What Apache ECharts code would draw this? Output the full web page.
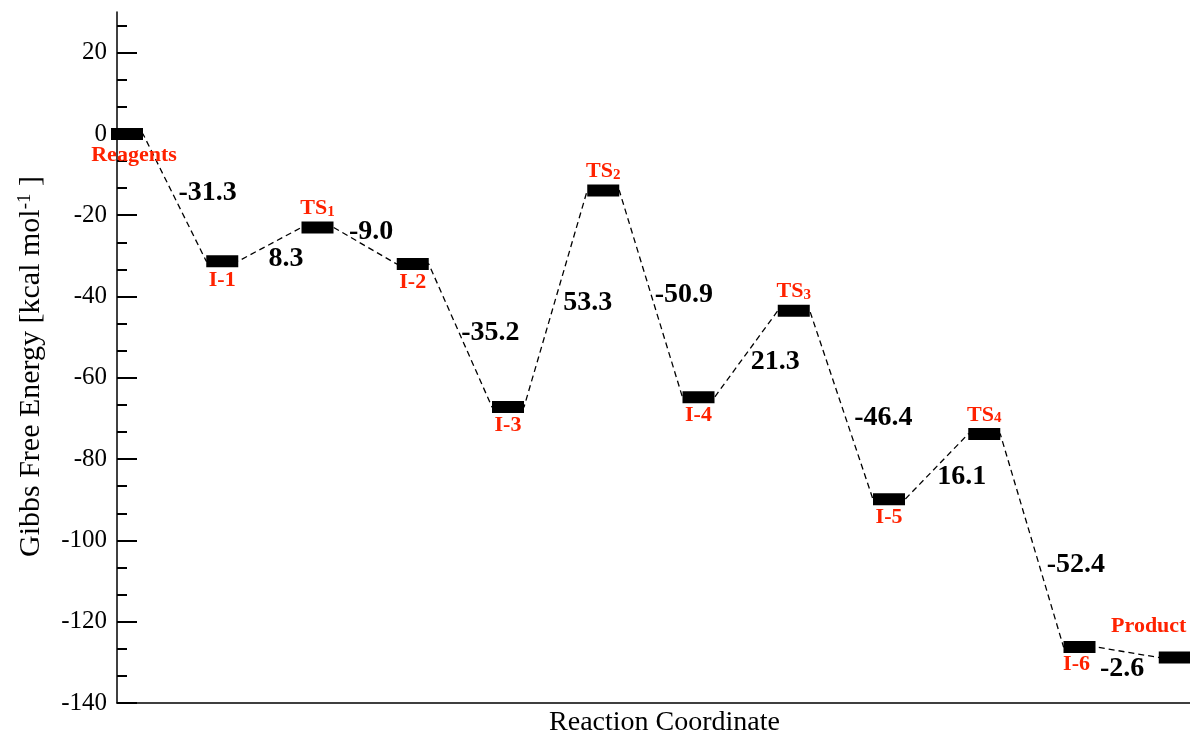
<!DOCTYPE html>
<html>
<head>
<meta charset="utf-8">
<script src="https://cdn.jsdelivr.net/npm/echarts@6/dist/echarts.min.js"></script>
<style>
	html, body { margin: 0; padding: 0; background: #fff; }
	#main { width: 1190px; height: 742px; }
</style>
</head>
<body>
<div id="main"></div>
<script>
// states along the reaction path
var stateNames = ['Reagents', 'I-1', 'TS1', 'I-2', 'I-3', 'TS2', 'I-4', 'TS3', 'I-5', 'TS4', 'I-6', 'Product'];
var energies = [0, -31.3, -23.0, -32.0, -67.2, -13.9, -64.8, -43.5, -89.9, -73.8, -126.2, -128.8];
// energy change of each step, as written on the chart
var stepLabels = ['-31.3', '8.3', '-9.0', '-35.2', '53.3', '-50.9', '21.3', '-46.4', '16.1', '-52.4', '-2.6'];
var yTicks = [-140, -120, -100, -80, -60, -40, -20, 0, 20];

// label placement (pixels)
var stateOffsets = [[7, 21], [0, 19], [0, -19], [0, 18], [0, 18], [0, -19], [0, 18], [0, -19], [0, 18], [0, -19], [-3, 17], [-26, -31]];
var stepOffsets = [[33, -5], [16, 14], [6, -14], [30, -3], [32, 4], [33, 1], [29, 8], [42, 13], [25, 10], [44, 24], [-5, 17]];

var barHalf = 0.168;
var red = '#ff2200';
var serif = '"Liberation Serif", "DejaVu Serif", serif';

var minorTicks = [];
for (var k = 0; k <= 25; k++) {
	if (k % 3 !== 0) minorTicks.push(-140 + k * 20 / 3);
}

var levelData = energies.map(function (e, i) { return [i, e]; });

// dashed path: runs along each level, hidden under the bars
var pathData = [];
energies.forEach(function (e, i) {
	pathData.push([i - barHalf, e]);
	pathData.push([i + barHalf, e]);
});

var stateLabelData = energies.map(function (e, i) {
	return { value: [i, e], label: { offset: stateOffsets[i] } };
});

var stepLabelData = stepLabels.map(function (t, i) {
	return { value: [i + 0.5, (energies[i] + energies[i + 1]) / 2], label: { offset: stepOffsets[i] } };
});

var myChart = echarts.init(document.getElementById('main'));
var option = {
	animation: false,
	grid: { left: 117, right: 0, top: 12, bottom: 32 },
	xAxis: {
		type: 'value',
		min: -0.105,
		max: 11.16,
		axisLine: { show: true, onZero: false, lineStyle: { color: '#000', width: 1.5 } },
		axisTick: { show: false },
		axisLabel: { show: false },
		splitLine: { show: false },
		name: 'Reaction Coordinate',
		nameLocation: 'middle',
		nameGap: 6,
		nameTextStyle: { fontFamily: serif, fontSize: 28, color: '#000', verticalAlign: 'top', padding: [0, 0, 0, 22] }
	},
	yAxis: [{
		type: 'value',
		min: -140,
		max: 30,
		position: 'left',
		axisLine: { show: true, onZero: false, lineStyle: { color: '#000', width: 1.5 } },
		axisTick: { show: true, inside: true, length: 20, customValues: yTicks, lineStyle: { color: '#000', width: 2 } },
		axisLabel: { customValues: yTicks, fontFamily: serif, fontSize: 25, color: '#000', margin: 10 },
		splitLine: { show: false },
		name: '{n|Gibbs Free Energy [kcal mol}{sup|-1}{n| ]}',
		nameLocation: 'middle',
		nameRotate: 90,
		nameGap: 70,
		nameTextStyle: {
			color: '#000',
			padding: [0, 18, 0, 0],
			rich: {
				n: { fontFamily: serif, fontSize: 30, color: '#000' },
				sup: { fontFamily: serif, fontSize: 19, color: '#000', verticalAlign: 'top', padding: [0, 0, 12, 0] }
			}
		}
	}, {
		// minor ticks
		type: 'value',
		min: -140,
		max: 30,
		position: 'left',
		axisLine: { show: false, onZero: false },
		axisTick: { show: true, inside: true, length: 10, customValues: minorTicks, lineStyle: { color: '#000', width: 2 } },
		axisLabel: { show: false },
		splitLine: { show: false }
	}],
	series: [{
		type: 'line',
		data: pathData,
		symbol: 'none',
		silent: true,
		z: 2,
		lineStyle: { color: '#000', width: 1.3, type: [6, 4] }
	}, {
		type: 'custom',
		data: levelData,
		silent: true,
		z: 3,
		renderItem: function (params, api) {
			var x = api.value(0), y = api.value(1);
			var p1 = api.coord([x - barHalf, y]);
			var p2 = api.coord([x + barHalf, y]);
			return {
				type: 'rect',
				shape: { x: p1[0], y: p1[1] - 6, width: p2[0] - p1[0], height: 12 },
				style: { fill: '#000' }
			};
		}
	}, {
		type: 'scatter',
		data: stateLabelData,
		symbolSize: 0,
		silent: true,
		z: 4,
		itemStyle: { opacity: 1 },
		label: {
			show: true,
			position: 'inside',
			textBorderWidth: 0,
			formatter: function (p) {
				var s = stateNames[p.dataIndex];
				if (s.indexOf('TS') === 0) return '{m|TS}{s|' + s.slice(2) + '}';
				return '{m|' + s + '}';
			},
			rich: {
				m: { fontFamily: serif, fontWeight: 'bold', fontSize: 22, color: red, textBorderWidth: 0 },
				s: { fontFamily: serif, fontWeight: 'bold', fontSize: 15, color: red, textBorderWidth: 0, verticalAlign: 'bottom' }
			}
		}
	}, {
		type: 'scatter',
		data: stepLabelData,
		symbolSize: 0,
		silent: true,
		z: 4,
		itemStyle: { opacity: 1 },
		label: {
			show: true,
			position: 'inside',
			formatter: function (p) { return stepLabels[p.dataIndex]; },
			fontFamily: serif,
			fontWeight: 'bold',
			fontSize: 28,
			color: '#000',
			textBorderWidth: 0
		}
	}]
};
myChart.setOption(option);
</script>
</body>
</html>
